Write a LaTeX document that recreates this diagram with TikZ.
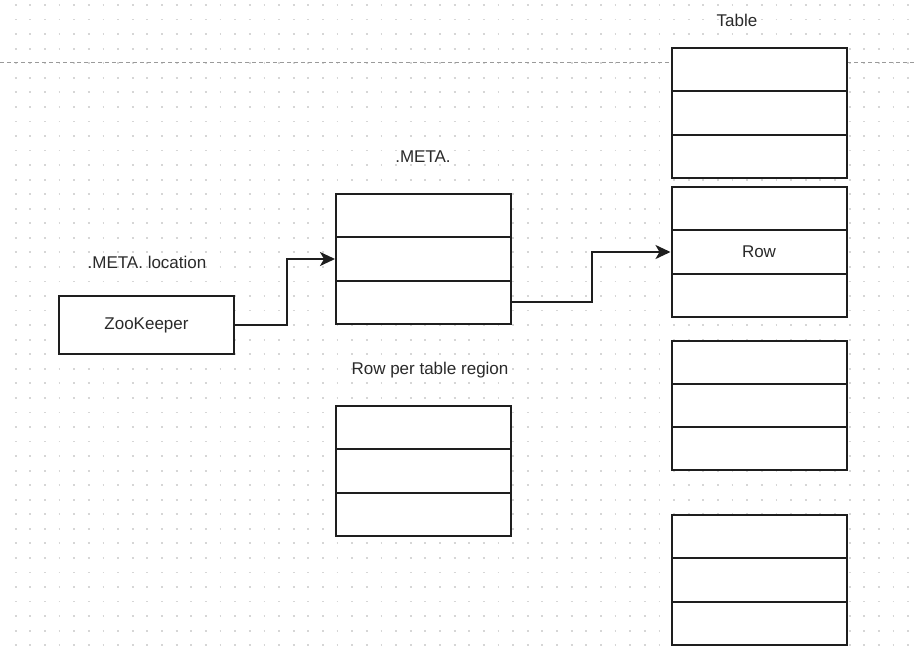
\documentclass[tikz,border=0pt]{standalone}
\usepackage{fontspec}
\setmainfont{Liberation Sans}
\usetikzlibrary{arrows.meta}
\definecolor{ink}{HTML}{1E1E1E}
\definecolor{txt}{HTML}{2A2A2A}
\definecolor{dotc}{HTML}{D6D6D6}
\definecolor{dashc}{HTML}{9A9A9A}
\tikzset{
  rowbox/.style={draw=ink, fill=white, line width=2pt, minimum width=175pt, minimum height=43.33pt, inner sep=0pt, font=\fontsize{17}{19}\selectfont, text=txt},
  lbl/.style={font=\fontsize{17}{19}\selectfont, text=txt, inner sep=0pt},
  conn/.style={draw=ink, line width=2pt, -{Stealth[length=15pt,width=14pt,inset=4pt]}},
  dotrow/.style={dotc, line width=1.8pt, dash pattern=on 1.8pt off 12.83pt},
}
\begin{document}
\begin{tikzpicture}[x=1pt,y=-1pt]
\useasboundingbox (0,0) rectangle (915,649);
\fill[white] (0,0) rectangle (915,649);
% dot grid
\foreach \i in {0,...,44}{
  \draw[dotrow] (14.8,{5+\i*14.55}) -- (915,{5+\i*14.55});
}
% dashed divider
\draw[dashc, line width=1.2pt, dash pattern=on 4pt off 3pt] (0,62.3) -- (915,62.3);
% ZooKeeper
\node[rowbox, minimum height=58pt] (zk) at (146.5,325) {ZooKeeper};
\node[lbl] (zkl) at (147,262) {.META. location};
% .META.
\node[lbl] (metal) at (423,157) {.META.};
\node[rowbox] (meta1) at (423.5,215.7) {};
\node[rowbox] (meta2) at (423.5,259.0) {};
\node[rowbox] (meta3) at (423.5,302.3) {};
% Row per table region
\node[lbl] (rptl) at (430,370) {Row per table region};
\node[rowbox] (rpt1) at (423.5,427.7) {};
\node[rowbox] (rpt2) at (423.5,471.0) {};
\node[rowbox] (rpt3) at (423.5,514.3) {};
% Table
\node[lbl] (tablel) at (737,20) {Table};
\node[rowbox] (ta1) at (759,69.7) {};
\node[rowbox] (ta2) at (759,113.0) {};
\node[rowbox] (ta3) at (759,156.3) {};
\node[rowbox] (tb1) at (759,208.7) {};
\node[rowbox] (tb2) at (759,252.0) {Row};
\node[rowbox] (tb3) at (759,295.3) {};
\node[rowbox] (tc1) at (759,362.2) {};
\node[rowbox] (tc2) at (759,405.5) {};
\node[rowbox] (tc3) at (759,448.8) {};
\node[rowbox] (td1) at (759,536.7) {};
\node[rowbox] (td2) at (759,580.0) {};
\node[rowbox] (td3) at (759,623.3) {};
% connectors
\draw[conn] (zk.east) -- ++(51.5,0) |- (meta2.west);
\draw[conn] (meta3.east) -- ++(80,0) |- (tb2.west);
\end{tikzpicture}
\end{document}
